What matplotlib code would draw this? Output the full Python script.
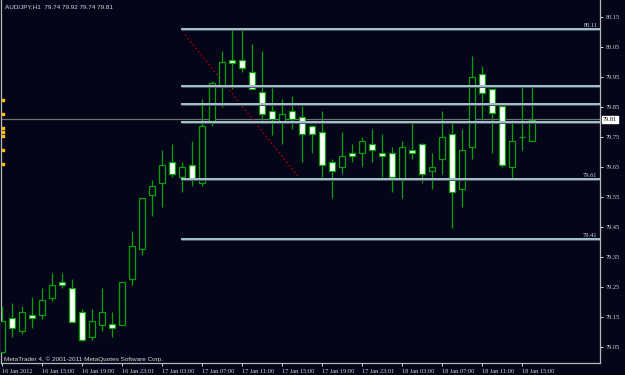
import matplotlib
matplotlib.use("Agg")
import matplotlib.pyplot as plt
import numpy as np

# ---- data ----
opens = [79.035, 79.147, 79.105, 79.157, 79.157, 79.216, 79.268, 79.248, 79.167, 79.086,
         79.126, 79.127, 79.126, 79.277, 79.378, 79.557, 79.597, 79.667, 79.617, 79.658,
         79.597, 79.803, 79.919, 80.009, 80.009, 79.969, 79.901, 79.839, 79.802, 79.839,
         79.818, 79.788, 79.768, 79.667, 79.651, 79.699, 79.699, 79.728, 79.699, 79.699,
         79.608, 79.708, 79.728, 79.639, 79.678, 79.761, 79.578, 79.717, 79.961, 79.911,
         79.856, 79.651, 79.751, 79.739]
highs = [79.188, 79.198, 79.188, 79.217, 79.248, 79.298, 79.298, 79.278, 79.177, 79.177,
         79.248, 79.167, 79.268, 79.438, 79.548, 79.608, 79.708, 79.728, 79.667, 79.738,
         79.878, 79.939, 80.039, 80.108, 80.108, 80.062, 80.039, 79.916, 79.878, 79.889,
         79.855, 79.790, 79.839, 79.678, 79.768, 79.728, 79.751, 79.778, 79.761, 79.719,
         79.739, 79.799, 79.730, 79.699, 79.839, 79.799, 79.778, 80.022, 79.988, 79.911,
         79.860, 79.808, 79.917, 79.918]
lows = [79.030, 79.086, 79.095, 79.116, 79.146, 79.206, 79.247, 79.136, 79.070, 79.076,
        79.106, 79.086, 79.125, 79.257, 79.358, 79.489, 79.517, 79.617, 79.567, 79.588,
        79.589, 79.788, 79.851, 79.911, 79.969, 79.911, 79.808, 79.758, 79.728, 79.778,
        79.667, 79.699, 79.617, 79.547, 79.628, 79.667, 79.656, 79.667, 79.617, 79.567,
        79.547, 79.678, 79.597, 79.578, 79.628, 79.447, 79.517, 79.678, 79.808, 79.699,
        79.651, 79.608, 79.708, 79.739]
closes = [79.138, 79.116, 79.167, 79.147, 79.208, 79.258, 79.257, 79.136, 79.076, 79.137,
          79.167, 79.116, 79.268, 79.388, 79.548, 79.589, 79.658, 79.628, 79.651, 79.608,
          79.789, 79.931, 80.001, 79.999, 79.981, 79.911, 79.828, 79.811, 79.828, 79.811,
          79.761, 79.761, 79.658, 79.639, 79.689, 79.689, 79.739, 79.708, 79.689, 79.618,
          79.717, 79.699, 79.628, 79.651, 79.751, 79.567, 79.708, 79.951, 79.899, 79.831,
          79.658, 79.739, 79.751, 79.808]

level_prices = [80.11, 79.92, 79.86, 79.80, 79.61, 79.41]
level_labels = ["80.11", "", "", "", "79.61", "79.41"]
level_start_bar = 17.9
current_price = 79.81
trend_x = [18.3, 29.8]
trend_y = [80.092, 79.611]
marker_prices = [79.875, 79.828, 79.782, 79.768, 79.755, 79.708, 79.662]

ytick_vals = [80.15, 80.05, 79.95, 79.85, 79.75, 79.65, 79.55, 79.45, 79.35, 79.25, 79.15, 79.05]
xtick_bars = list(range(0, 53, 4))
xtick_labels = ["16 Jan 2012", "16 Jan 15:00", "16 Jan 19:00", "16 Jan 23:01",
                "17 Jan 03:00", "17 Jan 07:00", "17 Jan 11:00", "17 Jan 15:00",
                "17 Jan 19:00", "17 Jan 23:01", "18 Jan 03:00", "18 Jan 07:00",
                "18 Jan 11:00", "18 Jan 15:00"]
title_text = "AUD/JPY,H1  79.74 79.92 79.74 79.81"
footer_text = "MetaTrader 4, © 2001-2011 MetaQuotes Software Corp."

# ---- style ----
BG = "#05051a"
GREEN = "#00a300"
TXT = "#d8d8d8"
LVL = "#b4d4e2"
W, H = 625, 375
TICKFONT = "Liberation Serif"
TICKSIZE = 4.5

fig = plt.figure(figsize=(W / 100, H / 100), dpi=100, facecolor=BG)
ax = fig.add_axes([1 / W, (H - 363) / H, 599 / W, 363 / H], facecolor=BG)

x = np.arange(len(opens))
ax.set_xlim(-0.13, 59.77)
ax.set_ylim(78.998, 80.208)

# wicks
ax.vlines(x, lows, highs, color=GREEN, linewidth=0.9, zorder=3)
# bodies
for i in range(len(opens)):
    o, c = opens[i], closes[i]
    bull = c >= o
    bottom = min(o, c)
    h = max(abs(c - o), 0.0005)
    ax.bar(x[i], h, bottom=bottom, width=0.62,
           facecolor=(BG if bull else "white"), edgecolor=GREEN,
           linewidth=0.9, zorder=4)

# level lines
for p, lab in zip(level_prices, level_labels):
    ax.plot([level_start_bar, 59.77], [p, p], color="#4a5560", linewidth=2.1,
            solid_capstyle="butt", zorder=5)
    ax.plot([level_start_bar, 59.77], [p, p], color=LVL, linewidth=1.2,
            solid_capstyle="butt", zorder=6)
    if lab:
        ax.text(59.5, p + 0.004, lab, color=TXT, fontsize=4.6, ha="right", va="bottom",
                family=TICKFONT, zorder=7)

# current price line
ax.axhline(current_price, color="#707070", linewidth=0.9, zorder=2)

# trend line (red dotted)
ax.plot(trend_x, trend_y, color="#c00000", linewidth=1.0, linestyle=(0, (1, 2)), zorder=2)

# left yellow markers
ax.scatter([0.05] * len(marker_prices), marker_prices, marker="s", s=3,
           color="#ffc000", zorder=8, clip_on=False)

# axes styling
ax.spines["top"].set_visible(False)
for side in ["left", "right", "bottom"]:
    ax.spines[side].set_color("#b8b8b8")
    ax.spines[side].set_linewidth(0.9)

ax.yaxis.tick_right()
ax.set_yticks(ytick_vals)
ax.set_yticklabels([f"{v:.2f}" for v in ytick_vals])
ax.set_xticks(xtick_bars)
ax.set_xticklabels(xtick_labels)
ax.tick_params(axis="y", colors=TXT, labelsize=TICKSIZE, length=2.5, width=0.7, pad=1.5,
               labelfontfamily=TICKFONT)
ax.tick_params(axis="x", colors=TXT, labelsize=TICKSIZE, length=2.5, width=0.7, pad=1.5,
               labelfontfamily=TICKFONT)
for lbl in ax.get_xticklabels():
    lbl.set_ha("left")

# current price tag on axis
ax.text(1.005, current_price, "79.81", transform=ax.get_yaxis_transform(),
        fontsize=TICKSIZE, family=TICKFONT, color="black", va="center", ha="left",
        bbox=dict(boxstyle="square,pad=0.2", facecolor="white", edgecolor="white"),
        clip_on=False, zorder=10)

fig.text(5 / W, 1 - 6.5 / H, title_text, color=TXT, fontsize=4.6, va="center", ha="left",
         family="Liberation Sans")
fig.text(4 / W, 1 - 359 / H, footer_text, color=TXT, fontsize=4.6, va="center", ha="left",
         family="Liberation Sans")

fig.savefig("out.png", dpi=100, facecolor=BG)
